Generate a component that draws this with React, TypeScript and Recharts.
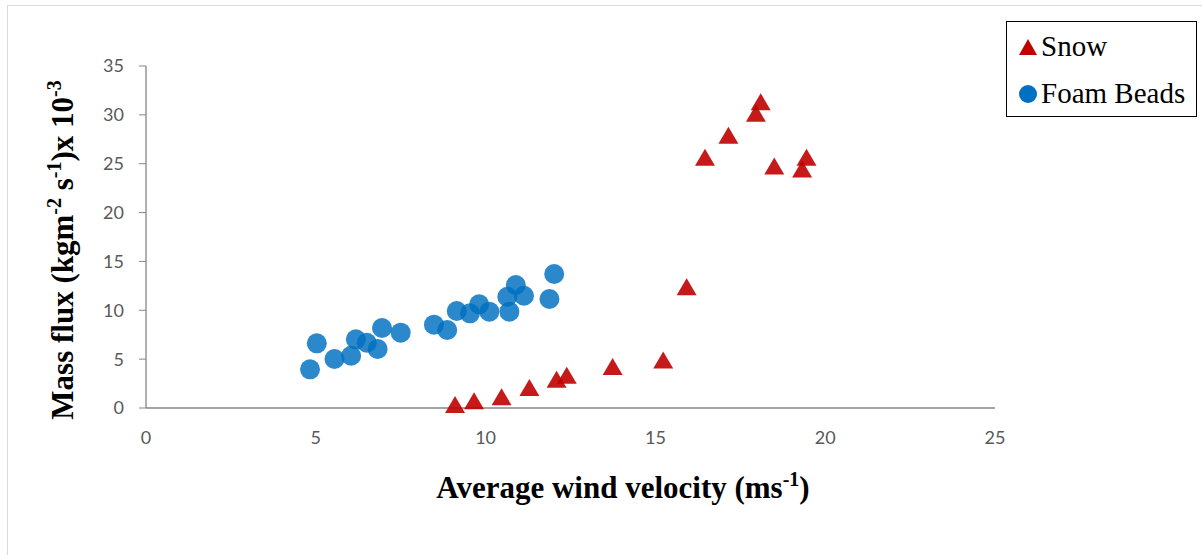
import { ScatterChart, Scatter, XAxis, YAxis } from 'recharts'

// Foam beads: wind velocity (m/s) vs mass flux (x10^-3)
const foamVelocity = [4.83, 5.03, 5.55, 6.04, 6.18, 6.5, 6.82, 6.95, 7.5, 8.48, 8.87, 9.15, 9.54, 9.81, 10.11, 10.64, 10.7, 10.89, 11.13, 11.88, 12.02]
const foamFlux = [3.96, 6.62, 5.01, 5.35, 7.03, 6.68, 6.04, 8.19, 7.71, 8.53, 7.98, 9.93, 9.69, 10.61, 9.86, 11.39, 9.86, 12.59, 11.49, 11.16, 13.71]

// Snow
const snowVelocity = [9.1, 9.66, 10.47, 11.29, 12.09, 12.39, 13.74, 15.23, 15.92, 18.1, 17.96, 17.15, 16.46, 18.5, 19.45, 19.32]
const snowFlux = [0.2, 0.6, 1.0, 1.95, 2.8, 3.2, 4.1, 4.75, 12.25, 31.2, 30.0, 27.75, 25.5, 24.6, 25.5, 24.3]

const xTicks = [0, 5, 10, 15, 20, 25]
const yTicks = [0, 5, 10, 15, 20, 25, 30, 35]

const foamData = foamVelocity.map((v, i) => ({ x: v, y: foamFlux[i] }))
const snowData = snowVelocity.map((v, i) => ({ x: v, y: snowFlux[i] }))

const axisGrey = '#868686'
const tickStyle = { fill: '#595959', fontSize: 18, fontFamily: 'Lato, "Open Sans", sans-serif' }
const serif = '"Liberation Serif", "Times New Roman", serif'
const titleStyle = { fontFamily: serif, fontWeight: 'bold' as const, fontSize: 31, fill: '#000' }

function XTitle() {
  return (
    <text x={623} y={498} textAnchor="middle" style={titleStyle}>
      Average wind velocity (ms<tspan dy={-12} style={{ fontSize: 20 }}>-1</tspan>
      <tspan dy={12}>)</tspan>
    </text>
  )
}

function YTitle() {
  return (
    <text x={0} y={0} transform="translate(73, 250) rotate(-90)" textAnchor="middle" style={titleStyle}>
      Mass flux (kgm<tspan dy={-12} style={{ fontSize: 20 }}>-2</tspan>
      <tspan dy={12}> s</tspan>
      <tspan dy={-12} style={{ fontSize: 20 }}>-1</tspan>
      <tspan dy={12}>)x 10</tspan>
      <tspan dy={-12} style={{ fontSize: 20 }}>-3</tspan>
    </text>
  )
}

// triangle marker, about 20px wide
const Triangle = (props: any) => {
  const { cx, cy } = props
  return <polygon points={`${cx},${cy - 10} ${cx + 10},${cy + 7} ${cx - 10},${cy + 7}`} fill="#C00000" fillOpacity={0.9} />
}

const Dot = (props: any) => <circle cx={props.cx} cy={props.cy} r={10} fill="#0070C0" fillOpacity={0.83} />

function LegendBox() {
  const row = { display: 'flex', alignItems: 'center', height: 47 }
  return (
    <div
      style={{
        position: 'absolute',
        left: 1006,
        top: 21,
        width: 191,
        height: 96,
        border: '1.5px solid #000',
        background: '#fff',
        fontFamily: serif,
        fontSize: 29,
        color: '#000',
        boxSizing: 'border-box',
        paddingLeft: 10,
        paddingTop: 1,
      }}
    >
      <div style={row}>
        <svg width={22} height={20} style={{ marginRight: 2 }}>
          <polygon points="11,2 20,18 2,18" fill="#C00000" />
        </svg>
        <span>Snow</span>
      </div>
      <div style={row}>
        <svg width={22} height={20} style={{ marginRight: 2 }}>
          <circle cx={11} cy={10} r={9} fill="#0070C0" />
        </svg>
        <span>Foam Beads</span>
      </div>
    </div>
  )
}

export default function App() {
  return (
    <div style={{ position: 'absolute', left: 0, top: 0, width: 1202, height: 555, background: '#fff', overflow: 'hidden' }}>
      <div
        style={{
          position: 'absolute',
          left: 7,
          top: 5,
          width: 1200,
          height: 560,
          borderTop: '1px solid #d9d9d9',
          borderLeft: '1px solid #d9d9d9',
        }}
      />
      <div style={{ position: 'absolute', left: 0, top: 0 }}>
        <ScatterChart width={1202} height={555} margin={{ top: 66, right: 207, bottom: 117, left: 106 }}>
          <XAxis
            type="number"
            dataKey="x"
            domain={[0, 25]}
            ticks={xTicks}
            interval={0}
            height={30}
            tickLine={false}
            tickSize={0}
            tickMargin={23}
            axisLine={{ stroke: axisGrey, strokeWidth: 1.3 }}
            tick={tickStyle}
            label={<XTitle />}
          />
          <YAxis
            type="number"
            dataKey="y"
            domain={[0, 35]}
            ticks={yTicks}
            interval={0}
            width={40}
            tickSize={7}
            tickMargin={15}
            axisLine={{ stroke: axisGrey, strokeWidth: 1.3 }}
            tickLine={{ stroke: axisGrey }}
            tick={tickStyle}
            label={<YTitle />}
          />
          <Scatter name="Snow" data={snowData} shape={Triangle} isAnimationActive={false} />
          <Scatter name="Foam Beads" data={foamData} shape={Dot} isAnimationActive={false} />
        </ScatterChart>
      </div>
      <LegendBox />
    </div>
  )
}
